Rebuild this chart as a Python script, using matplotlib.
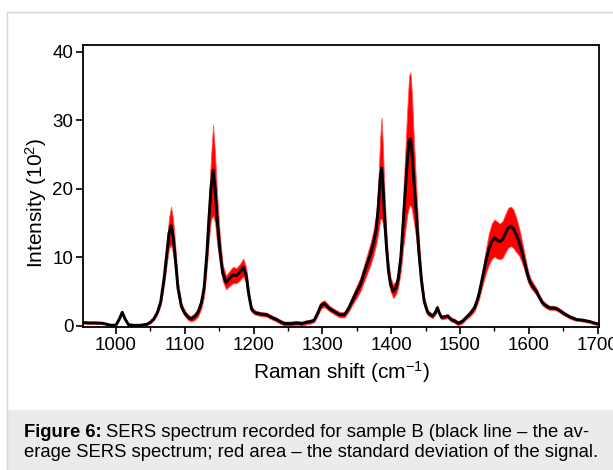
import matplotlib
matplotlib.use("Agg")
import matplotlib.pyplot as plt
from matplotlib.lines import Line2D
from matplotlib.patches import Rectangle
from matplotlib.ticker import MultipleLocator

plt.rcParams['font.family'] = ['Liberation Sans', 'DejaVu Sans']
plt.rcParams['mathtext.fontset'] = 'custom'
plt.rcParams['mathtext.rm'] = 'Liberation Sans'
plt.rcParams['mathtext.it'] = 'Liberation Sans:italic'
plt.rcParams['mathtext.bf'] = 'Liberation Sans:bold'

# Raman shift (cm^-1)
shift = [952, 960, 970, 980, 985, 990, 995, 1000, 1005, 1009, 1013, 1018, 1025, 1035,
         1045, 1050, 1055, 1060, 1065, 1070, 1074, 1077, 1080, 1083, 1086, 1090, 1095,
         1100, 1105, 1109, 1114, 1119, 1124, 1128, 1132, 1135, 1138, 1141, 1144, 1147,
         1151, 1155, 1160, 1165, 1170, 1175, 1180, 1185, 1189, 1193, 1197, 1202, 1210,
         1219, 1226, 1233, 1240, 1245, 1255, 1262, 1270, 1277, 1283, 1288, 1293, 1298,
         1303, 1310, 1318, 1325, 1332, 1338, 1344, 1350, 1355, 1360, 1365, 1370, 1374,
         1378, 1381, 1384, 1386, 1388, 1390, 1393, 1396, 1399, 1403, 1407, 1410, 1414,
         1417, 1420, 1423, 1426, 1428, 1430, 1433, 1436, 1440, 1444, 1448, 1453, 1460,
         1464, 1467, 1470, 1473, 1478, 1482, 1487, 1492, 1497, 1503, 1509, 1515, 1521,
         1525, 1528, 1533, 1538, 1542, 1546, 1550, 1554, 1558, 1562, 1566, 1570, 1574,
         1578, 1582, 1586, 1590, 1594, 1598, 1602, 1606, 1611, 1616, 1620, 1625, 1630,
         1635, 1640, 1645, 1649, 1654, 1659, 1664, 1669, 1674, 1678, 1683, 1688, 1693,
         1698, 1702]

# average SERS intensity (10^2)
mean_int = [0.45, 0.40, 0.40, 0.35, 0.25, 0.10, 0.05, 0.10, 1.0, 1.95, 1.0, 0.15, 0.05, 0.05,
            0.2, 0.5, 1.0, 1.9, 3.5, 7.0, 10.8, 13.5, 14.6, 13.0, 10.0, 5.5, 2.8,
            1.8, 1.2, 1.0, 1.3, 1.9, 3.3, 5.5, 10.5, 15.5, 20.0, 22.7, 20.0, 15.5,
            11.0, 7.7, 6.3, 6.9, 7.4, 7.3, 7.8, 8.5, 7.5, 4.5, 2.4, 1.9, 1.7,
            1.6, 1.2, 0.9, 0.5, 0.3, 0.3, 0.4, 0.3, 0.5, 0.6, 0.8, 1.8, 3.0,
            3.2, 2.5, 2.0, 1.6, 1.6, 2.5, 3.8, 5.0, 6.0, 7.5, 9.0, 10.5, 12.0,
            14.0, 17.0, 21.5, 23.0, 20.5, 16.5, 11.6, 8.0, 6.0, 5.0, 5.6, 6.7, 10.0,
            14.5, 19.0, 23.5, 27.0, 27.3, 25.5, 21.0, 17.0, 11.0, 6.5, 3.5, 1.9, 1.4,
            1.9, 2.6, 1.8, 1.2, 1.3, 1.4, 0.9, 0.7, 0.35, 0.6, 1.2, 1.8, 2.6,
            3.7, 4.8, 7.2, 9.6, 11.2, 12.3, 12.8, 12.5, 12.3, 12.6, 13.5, 14.3, 14.5,
            14.1, 13.2, 12.2, 10.8, 9.2, 7.5, 6.3, 5.7, 5.0, 4.0, 3.3, 2.9, 2.6,
            2.6, 2.5, 2.2, 1.9, 1.6, 1.3, 1.1, 0.9, 0.85, 0.8, 0.7, 0.6, 0.45,
            0.3, 0.3]

# standard deviation (10^2)
std_int = [0.15, 0.15, 0.15, 0.15, 0.1, 0.1, 0.1, 0.1, 0.15, 0.2, 0.15, 0.1, 0.1, 0.1,
           0.1, 0.15, 0.2, 0.3, 0.5, 1.0, 1.6, 2.2, 2.8, 2.5, 1.8, 0.9, 0.5,
           0.4, 0.4, 0.4, 0.5, 0.6, 0.8, 1.2, 2.0, 3.0, 4.5, 6.6, 5.0, 3.5,
           2.0, 1.2, 1.0, 1.1, 1.2, 1.1, 1.2, 1.3, 1.1, 0.7, 0.4, 0.3, 0.3,
           0.3, 0.3, 0.3, 0.3, 0.3, 0.3, 0.3, 0.3, 0.3, 0.3, 0.3, 0.4, 0.5,
           0.5, 0.4, 0.4, 0.4, 0.4, 0.5, 0.7, 0.9, 1.0, 1.2, 1.4, 1.6, 1.8,
           2.2, 3.5, 6.0, 7.4, 5.5, 3.5, 2.0, 1.3, 1.0, 1.0, 1.0, 1.2, 2.0,
           3.5, 5.5, 7.5, 9.5, 9.7, 8.5, 6.0, 4.0, 2.0, 1.0, 0.6, 0.4, 0.3,
           0.35, 0.4, 0.3, 0.3, 0.3, 0.3, 0.3, 0.3, 0.3, 0.3, 0.3, 0.4, 0.5,
           0.6, 0.8, 1.2, 1.8, 2.3, 2.6, 2.7, 2.7, 2.6, 2.7, 2.8, 2.9, 2.9,
           2.8, 2.5, 2.0, 1.6, 1.2, 0.9, 0.7, 0.6, 0.5, 0.4, 0.4, 0.35, 0.3,
           0.3, 0.3, 0.3, 0.3, 0.25, 0.25, 0.25, 0.2, 0.2, 0.2, 0.2, 0.2, 0.2,
           0.2, 0.2]

x_ticks = [1000, 1100, 1200, 1300, 1400, 1500, 1600, 1700]
y_ticks = [0, 10, 20, 30, 40]

W, H = 613, 470
fig = plt.figure(figsize=(W / 100, H / 100), dpi=100)
fig.patch.set_facecolor('white')

# outer frame and caption box
fig.add_artist(Rectangle((8 / W, 0), 1 - 8 / W, (H - 410) / H, transform=fig.transFigure,
                         facecolor='#ebebeb', edgecolor='none', zorder=0))
fig.add_artist(Line2D([7 / W, 7 / W], [0, 1 - 12 / H], transform=fig.transFigure,
                      color='#d6d6d6', lw=1.0))
fig.add_artist(Line2D([7 / W, 1], [1 - 12 / H, 1 - 12 / H], transform=fig.transFigure,
                      color='#d6d6d6', lw=1.0))

ax = fig.add_axes([83 / W, 1 - 327 / H, (599 - 83) / W, (327 - 45) / H])
lo = [m - s for m, s in zip(mean_int, std_int)]
hi = [m + s for m, s in zip(mean_int, std_int)]
ax.fill_between(shift, lo, hi, color='#ff0000', lw=0.6, edgecolor='#ff5555', zorder=2)
ax.plot(shift, mean_int, color='black', lw=2.1, zorder=3)

ax.set_xlim(952, 1702)
ax.set_ylim(-0.2, 41)
ax.set_xticks(x_ticks)
ax.set_yticks(y_ticks)
ax.xaxis.set_minor_locator(MultipleLocator(50))
for s in ax.spines.values():
    s.set_linewidth(1.3)
ax.tick_params(axis='both', which='major', direction='out', length=5, width=1.2,
               labelsize=13.5, pad=2, colors='black')
ax.tick_params(axis='x', which='minor', direction='out', length=3, width=1.0)

ax.set_xlabel(r'Raman shift (cm$^{-1}$)', fontsize=15)
ax.xaxis.set_label_coords(0.5, (327 - 379) / 282)
ax.xaxis.label.set_verticalalignment('baseline')
ax.set_ylabel(r'Intensity (10$^{2}$)', fontsize=15)
ax.yaxis.set_label_coords((43 - 83) / 516, (327 - 203) / 282)
ax.yaxis.label.set_verticalalignment('baseline')

# caption
fs = 13.3
t1 = fig.text(24 / W, 1 - 437 / H, 'Figure 6:', fontsize=fs, fontweight='bold',
              va='baseline', ha='left')
fig.canvas.draw()
r = fig.canvas.get_renderer()
bb = t1.get_window_extent(renderer=r)
fig.text(bb.x1 / W + 4 / W, 1 - 437 / H,
         'SERS spectrum recorded for sample B (black line \u2013 the av-',
         fontsize=fs, va='baseline', ha='left')
fig.text(24 / W, 1 - 457 / H,
         'erage SERS spectrum; red area \u2013 the standard deviation of the signal.',
         fontsize=fs, va='baseline', ha='left')

fig.savefig('out.png', dpi=100)
